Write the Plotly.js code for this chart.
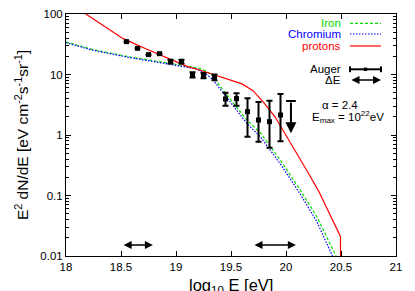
<!DOCTYPE html>
<html>
<head>
<meta charset="utf-8">
<script src="https://cdn.plot.ly/plotly-3.0.1.min.js"></script>
<style>html,body{margin:0;padding:0;background:#fff;}#chart{width:415px;height:291px;}</style>
</head>
<body>
<div id="chart"></div>
<script>
// ---- data ----
var ironX = [18.0, 18.25, 18.55, 18.86, 19.07, 19.2, 19.28, 19.34, 19.40, 19.52, 19.645, 19.77, 19.86, 19.95, 20.13, 20.28, 20.45, 20.47];
var ironY = [34.4, 25.7, 20.0, 16.1, 14.2, 12.8, 11.3, 9.2, 6.4, 3.34, 1.77, 1.07, 0.64, 0.38, 0.123, 0.0447, 0.0104, 0.009];

var chromX = [18.0, 18.25, 18.55, 18.86, 19.07, 19.18, 19.26, 19.33, 19.40, 19.52, 19.645, 19.77, 19.86, 19.95, 20.13, 20.28, 20.42, 20.44];
var chromY = [33.5, 25.0, 19.5, 15.6, 13.6, 12.5, 10.6, 8.4, 5.8, 3.0, 1.55, 0.92, 0.55, 0.33, 0.105, 0.037, 0.0102, 0.009];

var protonX = [18.1, 18.18, 18.35, 18.52, 18.71, 18.95, 19.1, 19.25, 19.49, 19.6, 19.7, 19.8, 19.9, 20.0, 20.1, 20.2, 20.3, 20.4, 20.495, 20.5];
var protonY = [125, 100, 63, 39.1, 27.4, 17.6, 13.6, 11.3, 8.2, 7.0, 5.4, 3.4, 2.0, 1.0, 0.48, 0.24, 0.115, 0.047, 0.021, 0.0001];

var augerX  = [18.55, 18.65, 18.75, 18.85, 18.95, 19.05, 19.15, 19.25, 19.35, 19.45, 19.55, 19.65, 19.75, 19.85, 19.95];
var augerY  = [34.9, 27.1, 21.3, 22.1, 16.3, 16.3, 9.9, 9.55, 9.0, 3.94, 4.0, 2.43, 1.77, 1.66, 2.14];
var augerHi = [34.9, 27.1, 21.3, 22.1, 17.5, 17.5, 10.9, 10.6, 10.0, 5.0, 4.9, 4.04, 3.51, 3.69, 4.76];
var augerLo = [34.9, 27.1, 21.3, 22.1, 15.2, 15.2, 8.9, 8.7, 8.0, 3.05, 3.05, 0.937, 0.775, 0.617, 0.787];

var limitX = [20.045];
var limitTop = [3.65];
var limitTip = [1.07];

var deltaE1 = [18.51, 18.79];
var deltaE2 = [19.70, 20.09];
var deltaEY = 0.0152;

var xTickVals = [18, 18.5, 19, 19.5, 20, 20.5, 21];
var xTickText = ['18', '18.5', '19', '19.5', '20', '20.5', '21'];
var yTickVals = [0.01, 0.1, 1, 10, 100];
var yTickText = ['0.01', '0.1', '1', '10', '100'];

// ---- build ----
var FONT = 'Liberation Sans, Arial, Helvetica, sans-serif';
var GREEN = '#00dd00', BLUE = '#0000ff', RED = '#ff0000';

var yMinor = [];
for (var k = -2; k < 2; k++) for (var m = 2; m <= 9; m++) yMinor.push(m * Math.pow(10, k));

var errPlus = augerY.map(function (v, i) { return augerHi[i] - v; });
var errMinus = augerY.map(function (v, i) { return v - augerLo[i]; });

var traces = [
  {x: ironX, y: ironY, mode: 'lines', line: {color: GREEN, width: 1.2, dash: '3px,2px'}, name: 'Iron'},
  {x: chromX, y: chromY, mode: 'lines', line: {color: BLUE, width: 1.2, dash: '1.5px,1.5px'}, name: 'Chromium'},
  {x: protonX, y: protonY, mode: 'lines', line: {color: RED, width: 1.2}, name: 'protons'},
  {x: augerX, y: augerY, mode: 'markers', marker: {symbol: 'square', size: 5, color: '#000'},
   error_y: {type: 'data', symmetric: false, array: errPlus, arrayminus: errMinus, color: '#000', thickness: 2, width: 3},
   name: 'Auger'},
  {x: limitX, y: limitTop, mode: 'markers', marker: {symbol: 'line-ew', size: 7, line: {color: '#000', width: 2}}, name: 'limit'}
];

function yl(v) { return Math.log10(v); }

var annotations = [
  {x: limitX[0], y: yl(limitTip[0]), ax: limitX[0], ay: yl(limitTop[0]), xref: 'x', yref: 'y', axref: 'x', ayref: 'y',
   text: '', showarrow: true, arrowhead: 2, arrowsize: 1.1, arrowwidth: 2, arrowcolor: '#000'},
  {x: deltaE1[1], y: yl(deltaEY), ax: deltaE1[0], ay: yl(deltaEY), xref: 'x', yref: 'y', axref: 'x', ayref: 'y',
   text: '', showarrow: true, arrowhead: 2, arrowside: 'end+start', arrowsize: 1, arrowwidth: 1.6, arrowcolor: '#000'},
  {x: deltaE2[1], y: yl(deltaEY), ax: deltaE2[0], ay: yl(deltaEY), xref: 'x', yref: 'y', axref: 'x', ayref: 'y',
   text: '', showarrow: true, arrowhead: 2, arrowside: 'end+start', arrowsize: 1, arrowwidth: 1.6, arrowcolor: '#000'}
];

// x-axis title (sits low, partly cut by the image edge as in the reference)
annotations.push({xref: 'paper', yref: 'paper', x: 0.5, y: -0.074, xanchor: 'center', yanchor: 'top',
  text: 'log<sub>10</sub> E [eV]', showarrow: false, font: {family: FONT, size: 16.5, color: '#000'}});

// legend (text left of sample, like the reference)
var legTextX = 0.8385, legL = 0.8606, legR = 0.9545;
var legRows = [
  {text: 'Iron', color: GREEN, y: 0.9616, dash: '3px,2px'},
  {text: 'Chromium', color: BLUE, y: 0.9174, dash: '1.5px,1.5px'},
  {text: 'protons', color: RED, y: 0.8678, dash: 'solid'}
];
var shapes = [];
legRows.forEach(function (r) {
  annotations.push({xref: 'paper', yref: 'paper', x: legTextX, y: r.y, xanchor: 'right', yanchor: 'middle',
    text: r.text, showarrow: false, font: {family: FONT, size: 11.5, color: r.color}});
  shapes.push({type: 'line', xref: 'paper', yref: 'paper', x0: legL, x1: legR, y0: r.y, y1: r.y,
    line: {color: r.color, width: 1.2, dash: r.dash}});
});
var augY = 0.7715, dEY = 0.7273;
annotations.push({xref: 'paper', yref: 'paper', x: legTextX, y: augY, xanchor: 'right', yanchor: 'middle',
  text: 'Auger', showarrow: false, font: {family: FONT, size: 11.5, color: '#000'}});
annotations.push({xref: 'paper', yref: 'paper', x: legTextX, y: dEY, xanchor: 'right', yanchor: 'middle',
  text: 'ΔE', showarrow: false, font: {family: FONT, size: 11.5, color: '#000'}});
shapes.push({type: 'line', xref: 'paper', yref: 'paper', x0: legL, x1: legR, y0: augY, y1: augY, line: {color: '#000', width: 2}});
shapes.push({type: 'line', xref: 'paper', yref: 'paper', x0: legL, x1: legL, y0: augY - 0.012, y1: augY + 0.012, line: {color: '#000', width: 2}});
shapes.push({type: 'line', xref: 'paper', yref: 'paper', x0: legR, x1: legR, y0: augY - 0.012, y1: augY + 0.012, line: {color: '#000', width: 2}});
shapes.push({type: 'rect', xref: 'paper', yref: 'paper', x0: (legL + legR) / 2 - 0.005, x1: (legL + legR) / 2 + 0.005, y0: augY - 0.007, y1: augY + 0.007, line: {width: 0}, fillcolor: '#000'});
annotations.push({xref: 'paper', yref: 'paper', x: legR, y: dEY, ax: -31, ay: 0, text: '', showarrow: true,
  arrowhead: 2, arrowside: 'end+start', arrowsize: 1, arrowwidth: 1.6, arrowcolor: '#000'});
annotations.push({xref: 'paper', yref: 'paper', x: 0.8303, y: 0.624, xanchor: 'center', yanchor: 'middle',
  text: 'α = 2.4', showarrow: false, font: {family: FONT, size: 11.5, color: '#000'}});
annotations.push({xref: 'paper', yref: 'paper', x: 0.8545, y: 0.5756, xanchor: 'center', yanchor: 'middle',
  text: 'E<sub>max</sub> = 10<sup>22</sup>eV', showarrow: false, font: {family: FONT, size: 11.5, color: '#000'}});

var layout = {
  width: 415, height: 291,
  margin: {l: 66, r: 19, t: 14, b: 35, pad: 0},
  paper_bgcolor: '#fff', plot_bgcolor: '#fff',
  showlegend: false,
  font: {family: FONT, size: 11.5, color: '#000'},
  xaxis: {
    range: [18, 21], tickmode: 'array', tickvals: xTickVals, ticktext: xTickText,
    ticks: 'inside', ticklen: 5, tickcolor: '#000', showgrid: false, zeroline: false,
    showline: true, linecolor: '#000', linewidth: 1, mirror: 'ticks',
    tickfont: {family: FONT, size: 11.5, color: '#000'}
  },
  yaxis: {
    type: 'log', range: [-2, 2], tickmode: 'array', tickvals: yTickVals, ticktext: yTickText,
    ticks: 'inside', ticklen: 5, tickcolor: '#000', showgrid: false, zeroline: false,
    showline: true, linecolor: '#000', linewidth: 1, mirror: 'ticks',
    minor: {tickmode: 'array', tickvals: yMinor, ticks: 'inside', ticklen: 3, tickcolor: '#000', showgrid: false},
    tickfont: {family: FONT, size: 11.5, color: '#000'},
    title: {text: 'E<sup>2</sup> dN/dE [eV cm<sup>-2</sup>s<sup>-1</sup>sr<sup>-1</sup>]', font: {family: FONT, size: 15.5, color: '#000'}, standoff: 7}
  },
  annotations: annotations,
  shapes: shapes
};

Plotly.newPlot('chart', traces, layout, {displayModeBar: false, staticPlot: true});
</script>
</body>
</html>
